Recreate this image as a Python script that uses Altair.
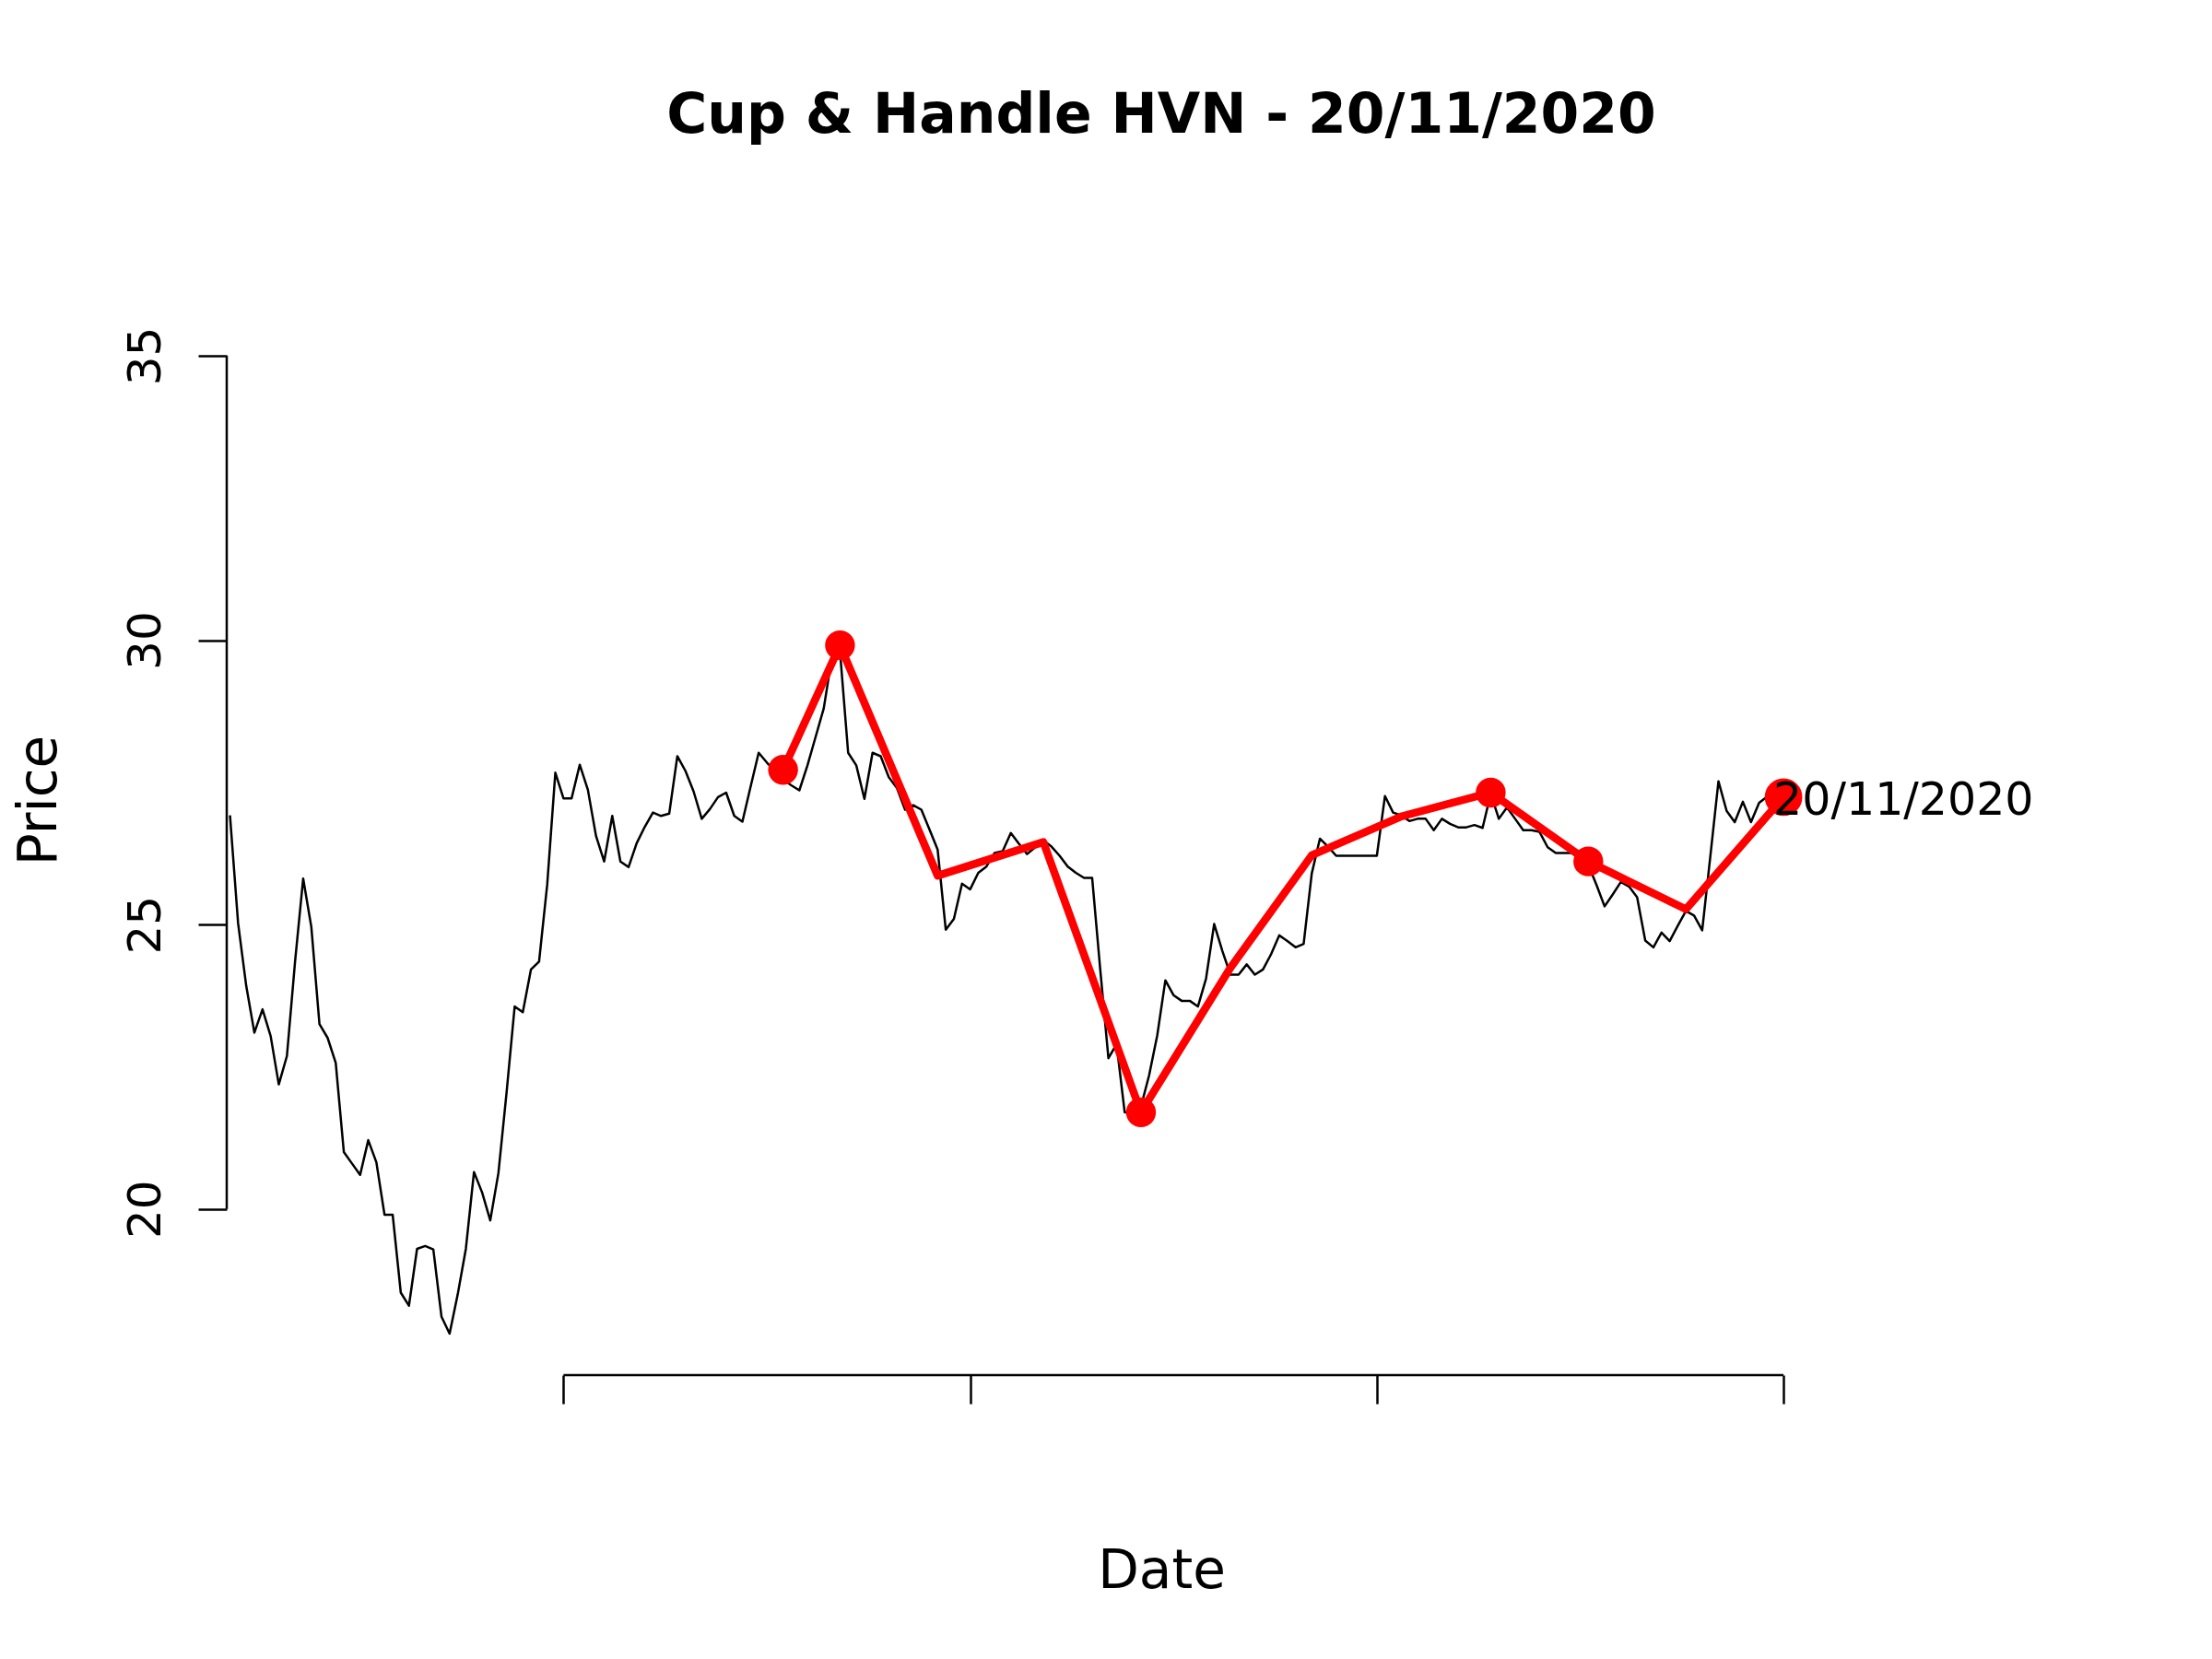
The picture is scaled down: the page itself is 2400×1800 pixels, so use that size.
import altair as alt
import pandas as pd

# ---- data ----
PRICES = [
    26.92, 25.02, 23.92, 23.10, 23.51, 23.04, 22.19, 22.69, 24.35, 25.81,
    24.96, 23.25, 23.01, 22.57, 21.00, 20.80, 20.60, 21.21, 20.82, 19.90,
    19.90, 18.53, 18.30, 19.30, 19.35, 19.29, 18.11, 17.81, 18.50, 19.30,
    20.65, 20.29, 19.80, 20.63, 22.04, 23.56, 23.46, 24.21, 24.35, 25.70,
    27.67, 27.22, 27.22, 27.81, 27.37, 26.56, 26.11, 26.91, 26.11, 26.01,
    26.43, 26.72, 26.97, 26.91, 26.95, 27.96, 27.70, 27.34, 26.86, 27.03,
    27.24, 27.32, 26.91, 26.81, 27.42, 28.02, 27.85, 27.70, 27.55, 27.45,
    27.36, 27.80, 28.30, 28.80, 29.70, 29.80, 28.02, 27.80, 27.21, 28.02,
    27.96, 27.59, 27.40, 27.02, 27.10, 27.02, 26.67, 26.32, 24.91, 25.10,
    25.72, 25.62, 25.91, 26.02, 26.26, 26.29, 26.61, 26.42, 26.24, 26.36,
    26.48, 26.37, 26.21, 26.02, 25.91, 25.82, 25.82, 24.20, 22.65, 22.90,
    21.70, 21.68, 21.80, 22.35, 23.05, 24.02, 23.76, 23.66, 23.66, 23.56,
    24.05, 25.01, 24.54, 24.12, 24.12, 24.30, 24.12, 24.21, 24.48, 24.81,
    24.71, 24.60, 24.66, 25.90, 26.51, 26.37, 26.21, 26.21, 26.21, 26.21,
    26.21, 26.21, 27.26, 26.97, 26.92, 26.82, 26.86, 26.86, 26.66, 26.86,
    26.77, 26.71, 26.71, 26.75, 26.70, 27.30, 26.86, 27.06, 26.86, 26.66,
    26.66, 26.63, 26.36, 26.26, 26.26, 26.26, 26.15, 26.05, 25.70, 25.32,
    25.53, 25.75, 25.67, 25.48, 24.72, 24.60, 24.86, 24.71, 24.98, 25.24,
    25.16, 24.90, 26.20, 27.52, 27.00, 26.80, 27.16, 26.80, 27.14, 27.25,
    27.20, 27.24,
]
RED_IDX = [68, 75, 87, 100, 112, 123, 133, 144, 155, 167, 179, 191]
RED_VAL = [27.72, 29.91, 25.86, 26.45, 21.70, 24.24, 26.22, 26.90, 27.32, 26.11, 25.27, 27.24]
RED_DOT = [1, 1, 0, 0, 1, 0, 0, 0, 1, 1, 0, 2]   # 1 = dot, 2 = large final dot
Y_TICKS = [20, 25, 30, 35]
X_TICKS = [41, 91, 141, 191]
TITLE = "Cup & Handle HVN - 20/11/2020"
LABEL = "20/11/2020"
X_TITLE = "Date"
Y_TITLE = "Price"

# ---- layout ----
W, H = 2028, 1248
FONT = "DejaVu Sans"
RED = "#FF0000"

price_df = pd.DataFrame({"idx": list(range(len(PRICES))), "price": PRICES})
red_df = pd.DataFrame({"idx": RED_IDX, "price": RED_VAL, "dot": RED_DOT})
ytick_df = pd.DataFrame({"idx": [0], "price": [min(Y_TICKS)], "hi": [max(Y_TICKS)]})
xtick_df = pd.DataFrame({"idx": [min(X_TICKS)], "hi": [max(X_TICKS)], "price": [0]})

xs = alt.Scale(domain=[-0.4, 229.4], nice=False, zero=False)
ys = alt.Scale(domain=[17.08, 37.3], nice=False, zero=False)

x_axis = alt.Axis(
    values=X_TICKS, labels=False, domain=False, grid=False,
    ticks=True, tickSize=31, tickWidth=2.5, tickColor="black",
    title=X_TITLE, titleFont=FONT, titleFontSize=58, titleFontWeight="normal",
    titleColor="black", titleY=230, titleBaseline="alphabetic",
)
y_axis = alt.Axis(
    values=Y_TICKS, domain=False, grid=False,
    ticks=True, tickSize=31, tickWidth=2.5, tickColor="black",
    labelAngle=270, labelAlign="center", labelBaseline="alphabetic",
    labelFont=FONT, labelFontSize=50, labelColor="black", labelPadding=42,
    labelOverlap=False, labelFlush=False,
    title=Y_TITLE, titleFont=FONT, titleFontSize=58, titleFontWeight="normal",
    titleColor="black", titleAngle=270, titleX=-186, titleY=H / 2,
    titleBaseline="alphabetic", titleAlign="center",
)

X = alt.X("idx:Q", scale=xs, axis=x_axis)
Y = alt.Y("price:Q", scale=ys, axis=y_axis)

black = alt.Chart(price_df).mark_line(
    color="black", strokeWidth=2.5, strokeJoin="round"
).encode(x=X, y=Y)

red_line = alt.Chart(red_df).mark_line(
    color=RED, strokeWidth=8.5, strokeCap="round", strokeJoin="round"
).encode(x=X, y=Y)

dots = alt.Chart(red_df).transform_filter("datum.dot == 1").mark_circle(
    color=RED, opacity=1, size=1050
).encode(x=X, y=Y)

big_dot = alt.Chart(red_df).transform_filter("datum.dot == 2").mark_circle(
    color=RED, opacity=1, size=1660
).encode(x=X, y=Y)

label = alt.Chart(red_df).transform_filter("datum.dot == 2").mark_text(
    text=LABEL, align="left", baseline="alphabetic", dx=-11, dy=18.6,
    font=FONT, fontSize=49, color="black",
).encode(x=X, y=Y)

y_line = alt.Chart(ytick_df).mark_rule(color="black", strokeWidth=2.5).encode(
    x=alt.value(0), y=Y, y2="hi:Q",
)

x_line = alt.Chart(xtick_df).mark_rule(color="black", strokeWidth=2.5).encode(
    x=X, x2="hi:Q", y=alt.value(H),
)

chart = alt.layer(black, red_line, dots, big_dot, label, y_line, x_line).properties(
    width=W, height=H,
    title=alt.TitleParams(
        TITLE, font=FONT, fontSize=60, fontWeight="bold", color="black",
        anchor="middle", baseline="alphabetic", offset=40,
    ),
    padding={"left": 238, "top": 236, "right": 100, "bottom": 280},
    autosize=alt.AutoSizeParams(type="none"),
    background="white",
).configure_view(stroke=None)

chart.save("out.html", embed_options={"renderer": "svg", "actions": False})
